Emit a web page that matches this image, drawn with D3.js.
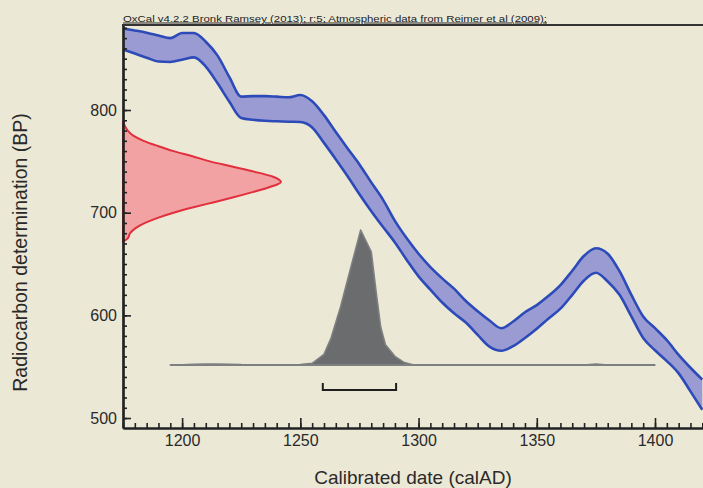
<!DOCTYPE html>
<html>
<head>
<meta charset="utf-8">
<script src="https://cdn.jsdelivr.net/npm/d3@7"></script>
<style>
  html, body { margin: 0; padding: 0; background: #ece8d6; }
  svg { display: block; font-family: "Liberation Sans", Arial, sans-serif; }
</style>
</head>
<body>
<svg id="chart" width="703" height="488"></svg>
<script>
// ---------------- data ----------------
const titleText = "OxCal v4.2.2 Bronk Ramsey (2013); r:5; Atmospheric data from Reimer et al (2009);";
const xTitle = "Calibrated date (calAD)";
const yTitle = "Radiocarbon determination (BP)";

const xTickValues = [1200, 1250, 1300, 1350, 1400];
const yTickValues = [500, 600, 700, 800];

// calibration curve band (years AD, upper and lower BP edges)
const calYears = [1175,1180,1185,1190,1195,1200,1205,1210,1215,1220,1225,1230,1235,1240,1245,1250,1255,1260,1265,1270,1275,1280,1285,1290,1295,1300,1305,1310,1315,1320,1325,1330,1335,1340,1345,1350,1355,1360,1365,1370,1375,1380,1385,1390,1395,1400,1405,1410,1415,1420];
const calUpper = [879.5,877.5,875.3,872.5,870,875,875,866.5,853,832,813,813.5,813.5,813,812.4,814.6,808.5,795,778.5,762.5,747,729.5,712.5,692,675,660,647,636,626,614,604,595,587.5,594,603,610,619,629.5,643.5,658,665.3,660,643,620,599,587.5,575.8,561.5,549,537.5];
const calLower = [859,855,851,847.2,846.8,849,851.3,842.3,826,808,792.3,790.5,789.5,789,788.6,788.3,783,768,752,735.5,718,701.5,686,671,654,638,625,612.5,602,593,581,569.5,565.5,570,578,587,597,606.5,620,634,641.5,633,620,599,578,566,555.5,543.5,526,508];

// radiocarbon measurement distribution (BP, relative probability)
const rcBP   = [672,675,680,685,690,695,700,705,710,715,720,725,730,735,740,745,750,755,760,765,770,775,780,785,789];
const rcProb = [0,0.03,0.045,0.08,0.14,0.22,0.32,0.44,0.57,0.70,0.82,0.93,1.0,0.95,0.83,0.69,0.55,0.44,0.32,0.22,0.13,0.065,0.03,0.01,0];

// calibrated date distribution (years AD, relative probability)
const calibYears = [1195,1200,1205,1210,1215,1220,1225,1230,1240,1250,1255,1260,1263,1267,1271,1275.5,1280,1282,1284,1286,1290,1294,1298,1310,1330,1350,1370,1375,1380,1400];
const calibProb  = [0,0.002,0.006,0.008,0.008,0.006,0.003,0.002,0.002,0.004,0.013,0.08,0.2,0.43,0.70,1.0,0.84,0.55,0.28,0.15,0.065,0.018,0,0,0,0,0,0.008,0,0];

// 95.4% range bracket (years AD)
const rangeYears = [1259.5, 1290.5];

// ---------------- layout ----------------
const W = 703, H = 488;
const plot = { left: 123, right: 703, top: 25, bottom: 428 };
const xDomain = [1175, 1420.3];
const yDomain = [490.3, 882.8];
const calibBaseBP = 551.6, calibPeakBP = 683;   // vertical placement of calibrated distribution
const rcMaxYear = 1241.8;                        // horizontal extent of measurement distribution
const bracketBP = 527.3;

const svg = d3.select("#chart");
svg.append("rect").attr("width", W).attr("height", H).attr("fill", "#ece8d6");

const x = d3.scaleLinear().domain(xDomain).range([plot.left, plot.right]);
const y = d3.scaleLinear().domain(yDomain).range([plot.bottom, plot.top]);
const xDens = d3.scaleLinear().domain([0, 1]).range([x(xDomain[0]), x(rcMaxYear)]);
const yDens = d3.scaleLinear().domain([0, 1]).range([y(calibBaseBP), y(calibPeakBP)]);

const g = svg.append("g");

// calibration band
const calData = calYears.map((yr, i) => ({ yr, hi: calUpper[i], lo: calLower[i] }));
g.append("path")
  .datum(calData)
  .attr("fill", "#9a9bd2")
  .attr("d", d3.area().x(d => x(d.yr)).y0(d => y(d.lo)).y1(d => y(d.hi)).curve(d3.curveMonotoneX));
["hi", "lo"].forEach(k => {
  g.append("path")
    .datum(calData)
    .attr("fill", "none")
    .attr("stroke", "#2c4bb8")
    .attr("stroke-width", 2.6)
    .attr("d", d3.line().x(d => x(d.yr)).y(d => y(d[k])).curve(d3.curveMonotoneX));
});

// radiocarbon measurement distribution (on y axis)
const rcData = rcBP.map((b, i) => ({ b, p: rcProb[i] }));
g.append("path")
  .datum(rcData)
  .attr("fill", "#f2a2a2")
  .attr("stroke", "#e12f3c")
  .attr("stroke-width", 2)
  .attr("d", d3.area().y(d => y(d.b)).x0(xDens(0)).x1(d => xDens(d.p)).curve(d3.curveMonotoneY));

// calibrated distribution
const cbData = calibYears.map((yr, i) => ({ yr, p: calibProb[i] }));
g.append("path")
  .datum(cbData)
  .attr("fill", "#6a6c6e")
  .attr("stroke", "#7e7f80")
  .attr("stroke-width", 1.6)
  .attr("stroke-linejoin", "round")
  .attr("d", d3.area().x(d => x(d.yr)).y0(yDens(0)).y1(d => yDens(d.p)));
g.append("line")
  .attr("x1", x(calibYears[0])).attr("x2", x(calibYears[calibYears.length - 1]))
  .attr("y1", yDens(0)).attr("y2", yDens(0))
  .attr("stroke", "#7e7f80").attr("stroke-width", 2);

// range bracket
const by = y(bracketBP);
g.append("path")
  .attr("fill", "none").attr("stroke", "#1e1e1e").attr("stroke-width", 2)
  .attr("d", `M${x(rangeYears[0])},${by - 7}V${by}H${x(rangeYears[1])}V${by - 7}`);

// ---------------- axes ----------------
const axisColor = "#222";
const xAxisG = svg.append("g").attr("transform", `translate(0,${plot.bottom})`);
xAxisG.call(d3.axisBottom(x).tickValues(d3.range(1175, 1421, 5)).tickSizeInner(-5).tickSizeOuter(0).tickFormat(""));
xAxisG.append("g").call(d3.axisBottom(x).tickValues(xTickValues).tickSizeInner(-10).tickSizeOuter(0).tickPadding(7).tickFormat(d3.format("d")));
const yAxisG = svg.append("g").attr("transform", `translate(${plot.left},0)`);
yAxisG.call(d3.axisLeft(y).tickValues(d3.range(500, 881, 10)).tickSizeInner(-4).tickSizeOuter(0).tickFormat(""));
yAxisG.append("g").call(d3.axisLeft(y).tickValues(yTickValues).tickSizeInner(-8).tickSizeOuter(0).tickPadding(6).tickFormat(d3.format("d")));

svg.selectAll(".domain").attr("stroke", axisColor).attr("stroke-width", 2.2);
svg.selectAll(".tick line").attr("stroke", axisColor).attr("stroke-width", 1.6);
svg.selectAll(".tick text").attr("fill", "#2a2a2a").attr("font-size", 16)
  .attr("font-family", "'Liberation Sans', Arial, sans-serif");

// top frame line
svg.append("line")
  .attr("x1", plot.left - 1).attr("x2", plot.right).attr("y1", plot.top).attr("y2", plot.top)
  .attr("stroke", "#333").attr("stroke-width", 2.2);

// title
svg.append("text")
  .attr("x", plot.left).attr("y", 21.5)
  .attr("font-size", 9.5)
  .attr("fill", "#222")
  .attr("text-decoration", "underline")
  .attr("textLength", 424).attr("lengthAdjust", "spacingAndGlyphs")
  .text(titleText);

// axis titles
svg.append("text")
  .attr("x", (plot.left + plot.right) / 2).attr("y", 484)
  .attr("text-anchor", "middle").attr("font-size", 19).attr("fill", "#2a2a2a")
  .text(xTitle);
svg.append("text")
  .attr("transform", `translate(27,${(plot.top + plot.bottom) / 2 + 26}) rotate(-90)`)
  .attr("text-anchor", "middle").attr("font-size", 19.5).attr("fill", "#2a2a2a")
  .text(yTitle);
</script>
</body>
</html>
